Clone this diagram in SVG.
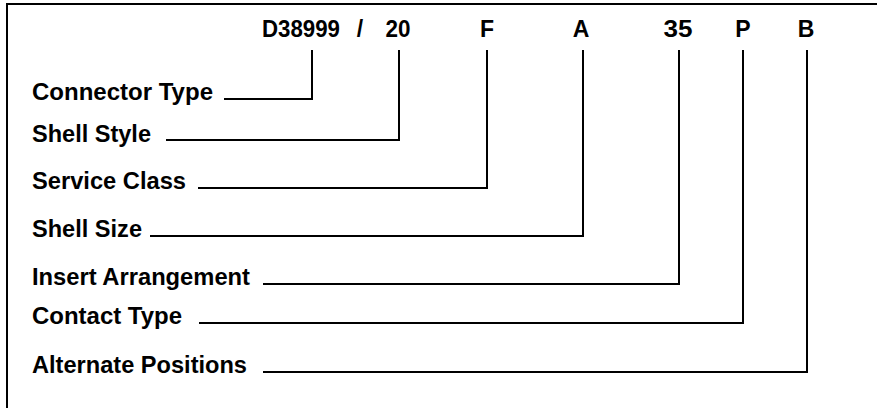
<svg xmlns="http://www.w3.org/2000/svg" width="877" height="408" viewBox="0 0 877 408">
<style>
.t{font-family:"Liberation Sans",Arial,sans-serif;font-weight:bold;font-size:23px;fill:#000}
.c{text-anchor:middle}
.ln{fill:none;stroke:#000;stroke-width:2}
</style>
<rect width="877" height="408" fill="#fff"/>
<path class="ln" d="M7,408 V4 H877"/>
<g id="code">
<text class="t" x="262" y="37" textLength="78" lengthAdjust="spacingAndGlyphs">D38999</text>
<text class="t c" x="360" y="37">/</text>
<text class="t c" x="398" y="37" textLength="25" lengthAdjust="spacingAndGlyphs">20</text>
<text class="t c" x="487" y="37">F</text>
<text class="t c" x="581" y="37">A</text>
<text class="t c" x="678" y="37" textLength="29" lengthAdjust="spacingAndGlyphs">35</text>
<text class="t c" x="743" y="37">P</text>
<text class="t c" x="806" y="37">B</text>
</g>
<g id="connector-type"><text class="t" x="32" y="100" textLength="181" lengthAdjust="spacingAndGlyphs">Connector Type</text></g>
<g id="shell-style"><text class="t" x="32" y="142" textLength="119" lengthAdjust="spacingAndGlyphs">Shell Style</text></g>
<g id="service-class"><text class="t" x="32" y="189" textLength="154" lengthAdjust="spacingAndGlyphs">Service Class</text></g>
<g id="shell-size"><text class="t" x="32" y="237" textLength="110" lengthAdjust="spacingAndGlyphs">Shell Size</text></g>
<g id="insert-arrangement"><text class="t" x="32" y="285" textLength="218" lengthAdjust="spacingAndGlyphs">Insert Arrangement</text></g>
<g id="contact-type"><text class="t" x="32" y="324" textLength="150" lengthAdjust="spacingAndGlyphs">Contact Type</text></g>
<g id="alternate-positions"><text class="t" x="32" y="373" textLength="215" lengthAdjust="spacingAndGlyphs">Alternate Positions</text></g>
<g id="connectors">
<path class="ln" d="M224,99 H312 V50"/>
<path class="ln" d="M166,140 H399 V50"/>
<path class="ln" d="M198,188 H487 V50"/>
<path class="ln" d="M150,236 H583 V50"/>
<path class="ln" d="M263,284 H679 V50"/>
<path class="ln" d="M199,323 H743 V50"/>
<path class="ln" d="M263,372 H807 V50"/>
</g>
</svg>
